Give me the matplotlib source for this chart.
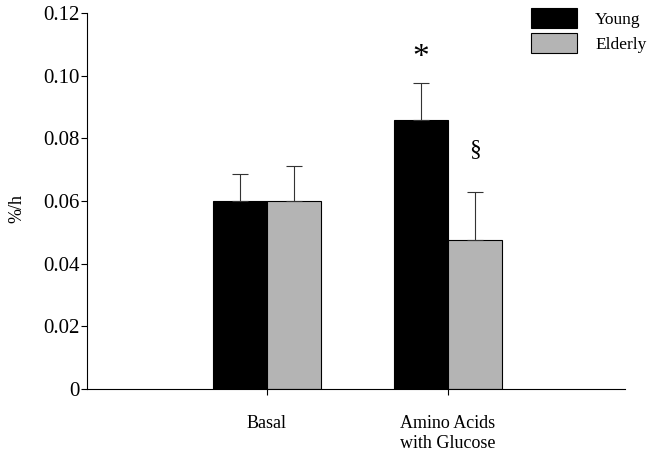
import matplotlib
matplotlib.use("Agg")
import matplotlib.pyplot as plt
import numpy as np

categories = ["Basal", "Amino Acids\nwith Glucose"]
young = [0.0600, 0.0858]
elderly = [0.0600, 0.0476]
young_err = [0.0086, 0.0118]
elderly_err = [0.0112, 0.0153]
series_names = ["Young", "Elderly"]
yticks = [0, 0.02, 0.04, 0.06, 0.08, 0.10, 0.12]
ytick_labels = ["0", "0.02", "0.04", "0.06", "0.08", "0.10", "0.12"]

plt.rcParams['font.family'] = ['Liberation Serif', 'DejaVu Serif']

fig = plt.figure(figsize=(6.54, 4.57), dpi=100)
ax = fig.add_axes([0.133, 0.149, 0.823, 0.8226])

x = np.arange(1, len(categories) + 1)
w = 0.3
ax.bar(x - w/2, young, w, color="black", edgecolor="black", linewidth=0.8, label=series_names[0])
ax.bar(x + w/2, elderly, w, color="#b4b4b4", edgecolor="black", linewidth=0.8, label=series_names[1])
ax.errorbar(x - w/2, young, yerr=[np.zeros(2), young_err], fmt="none", ecolor="#333333", elinewidth=0.8, capsize=5.5, capthick=0.8)
ax.errorbar(x + w/2, elderly, yerr=[np.zeros(2), elderly_err], fmt="none", ecolor="#333333", elinewidth=0.8, capsize=5.5, capthick=0.8)

ax.text(x[1] - w/2, young[1] + young_err[1] + 0.0080, "*", ha="center", va="center", fontsize=24)
ax.text(x[1] + w/2, elderly[1] + elderly_err[1] + 0.0134, "§", ha="center", va="center", fontsize=17)

ax.set_xlim(0.005, 2.98)
ax.set_ylim(0, 0.12)
ax.set_yticks(yticks)
ax.set_yticklabels(ytick_labels, fontsize=15)
ax.set_xticks(x)
ax.set_xticklabels(categories, fontsize=13)
ax.tick_params(axis="both", direction="out", length=4, width=0.8)
ax.tick_params(axis="y", pad=1.5)
ax.tick_params(axis="x", pad=15)
for s in ["top", "right"]:
    ax.spines[s].set_visible(False)
for s in ["left", "bottom"]:
    ax.spines[s].set_linewidth(0.8)
ax.set_ylabel("%/h", fontsize=13)
ax.yaxis.set_label_coords(-0.115, 0.48)

leg = fig.legend(loc="upper left", bbox_to_anchor=(531/654, 1 - 8/457), frameon=False, fontsize=12.5,
                 borderpad=0, borderaxespad=0,
                 handlelength=2.65, handleheight=1.4, handletextpad=1.05, labelspacing=0.3)

fig.savefig("out.png", dpi=100)
